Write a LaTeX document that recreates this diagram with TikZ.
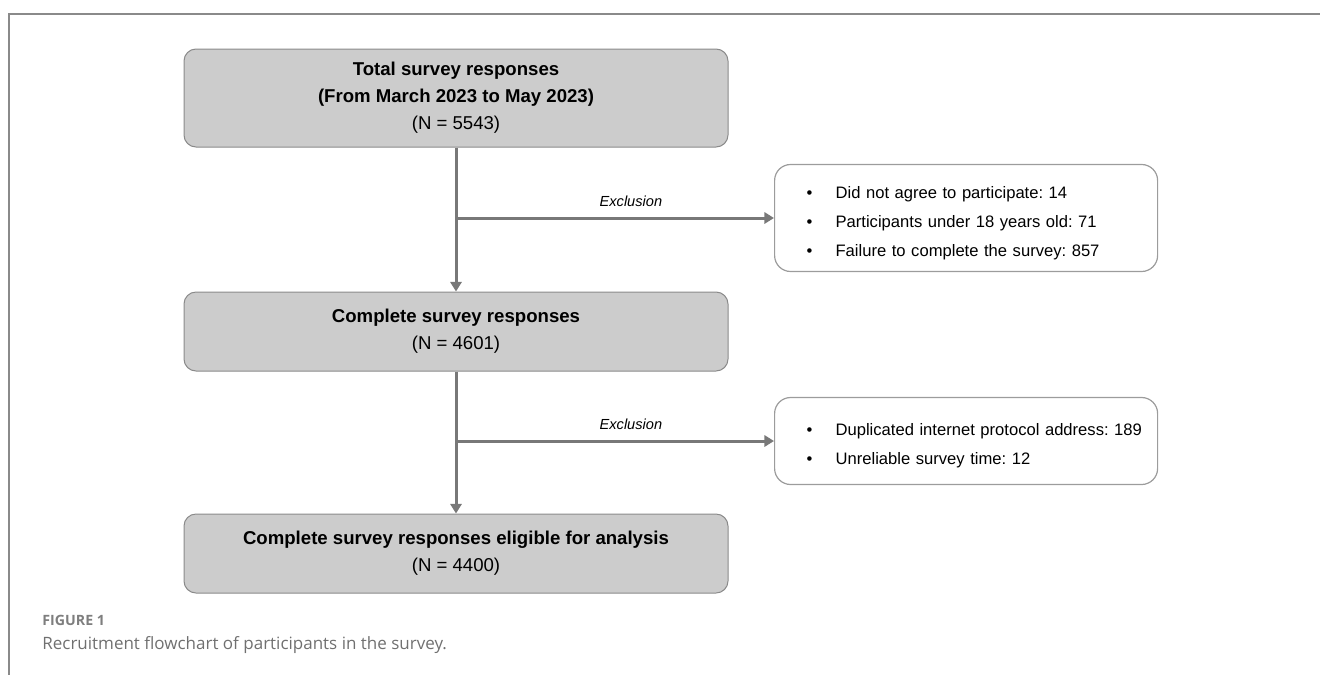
\documentclass[tikz,border=0pt]{standalone}
\usepackage{fontspec}
\setmainfont{Liberation Sans}
\newfontfamily\capfont{Open Sans}
\usepackage{xcolor}
\usetikzlibrary{arrows.meta, positioning}
\definecolor{boxgray}{HTML}{CCCCCC}
\definecolor{edgegray}{HTML}{8A8A8A}
\definecolor{linegray}{HTML}{787878}
\definecolor{capgray}{HTML}{707070}
\newcommand{\exitem}{\hspace*{14pt}\makebox[14.5pt][l]{\textbullet}}
\frenchspacing

\begin{document}
\begin{tikzpicture}[
    x=0.5pt, y=-0.5pt,
    node distance=72pt,
    mnode/.style={rectangle, draw=edgegray, fill=boxgray, line width=0.5pt, rounded corners=6pt, align=center, minimum width=272pt, inner sep=0pt, font=\fontsize{9.3}{13.5}\selectfont},
    xnode/.style={rectangle, draw=edgegray!85, fill=white, line width=0.6pt, rounded corners=8pt, align=left, text width=187.5pt, inner xsep=2pt, inner ysep=0pt, font=\fontsize{8.3}{14.4}\selectfont},
    arr/.style={-{Triangle[width=5.6pt,length=4.8pt]}, line width=1.5pt, color=linegray},
    lbl/.style={font=\fontsize{7.3}{9}\selectfont\itshape, text=black, above=1.5pt, pos=0.55}
]

\useasboundingbox (0,0) rectangle (1320,675);
\draw[edgegray, line width=0.8pt] (1320,14) -- (9,14) -- (9,675);

\node[mnode, minimum height=49pt] (total) at (456,98) {\textbf{Total survey responses}\\ \textbf{(From March 2023 to May 2023)}\\ (N = 5543)};
\node[mnode, minimum height=39.5pt, below=72pt of total] (complete) {\textbf{Complete survey responses}\\ (N = 4601)};
\node[mnode, minimum height=39.5pt, below=71pt of complete] (eligible) {\textbf{Complete survey responses eligible for analysis}\\ (N = 4400)};

\coordinate[below=35.25pt of total] (split1);
\coordinate[below=34.75pt of complete] (split2);
\node[xnode, minimum height=53.5pt, right=159pt of split1] (excl1) {\rule{0pt}{11pt}\exitem Did not agree to participate: 14\\ \exitem Participants under 18 years old: 71\\ \exitem Failure to complete the survey: 857};
\node[xnode, minimum height=43.5pt, right=159pt of split2] (excl2) {\rule{0pt}{11pt}\exitem Duplicated internet protocol address: 189\\ \exitem Unreliable survey time: 12};

\draw[arr] (total) -- (complete);
\draw[arr] (complete) -- (eligible);
\draw[arr] (split1) -- node[lbl] {Exclusion} (excl1);
\draw[arr] (split2) -- node[lbl] {Exclusion} (excl2);

\node[anchor=west, inner sep=0pt, font=\capfont\fontsize{7.1}{9}\selectfont\bfseries, text=capgray!90] (figlabel) at (42,620) {FIGURE 1};
\node[anchor=west, inner sep=0pt, font=\capfont\fontsize{8.5}{11}\selectfont, text=capgray] (figcaption) at (42,645) {Recruitment flowchart of participants in the survey.};

\end{tikzpicture}
\end{document}
